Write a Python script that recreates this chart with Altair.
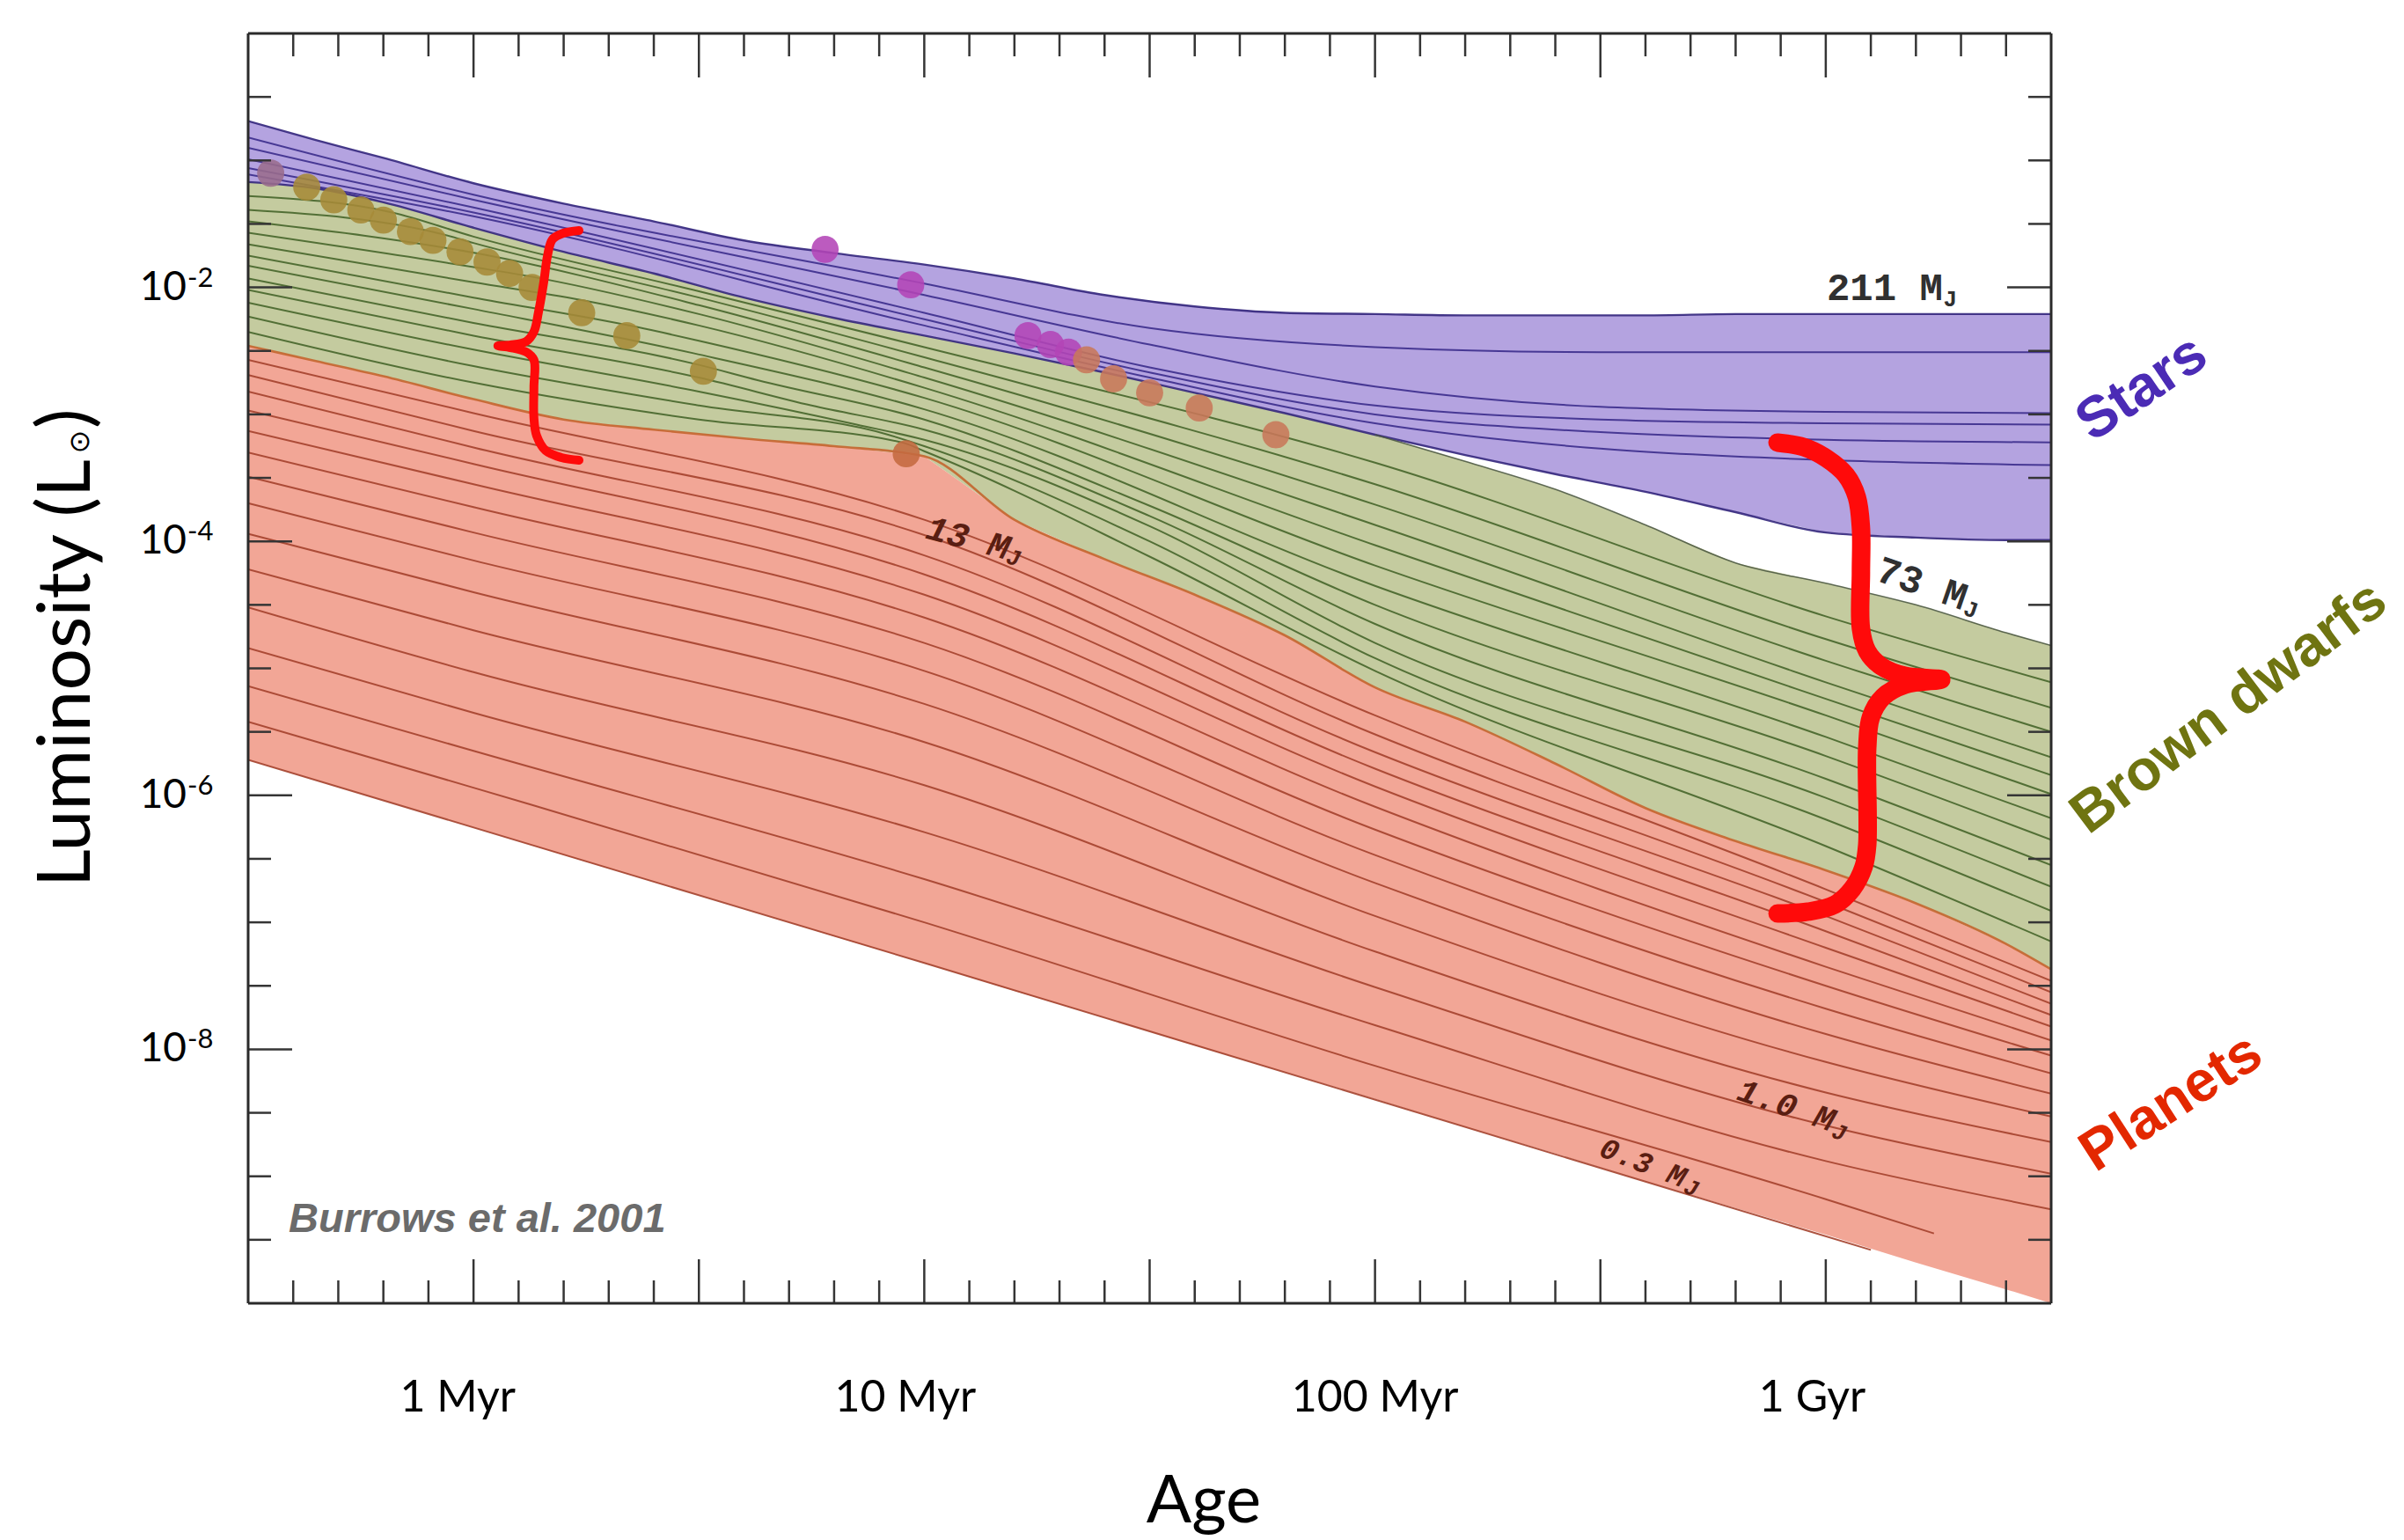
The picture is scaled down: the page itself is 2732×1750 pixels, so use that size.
import altair as alt
import pandas as pd

# ---------------- axis ranges: log10(age / yr) and log10(L / Lsun) ----------------
x_domain = [5.5, 9.5]
y_domain = [-10.0, 0.0]

# ---------------- region boundaries ----------------
grid_t = [5.5, 5.65, 5.8, 6.0, 6.2, 6.4, 6.6, 6.8, 7.0, 7.2, 7.4, 7.6, 7.8, 8.0,
          8.2, 8.4, 8.6, 8.8, 9.0, 9.2, 9.4, 9.5]
star_top = [-0.69, -0.84, -0.98, -1.18, -1.34, -1.48, -1.63, -1.73, -1.82, -1.93, -2.06,
            -2.15, -2.20, -2.21, -2.22, -2.22, -2.22, -2.21, -2.21, -2.21, -2.21, -2.21]
star_bottom = [-1.17, -1.22, -1.33, -1.53, -1.72, -1.89, -2.08, -2.24, -2.38, -2.52, -2.67,
               -2.83, -2.99, -3.16, -3.32, -3.47, -3.61, -3.77, -3.93, -3.97, -3.99, -3.99]
bd_top = [-1.17, -1.22, -1.33, -1.53, -1.72, -1.89, -2.08, -2.24, -2.38, -2.52, -2.67,
          -2.83, -2.99, -3.16, -3.37, -3.59, -3.87, -4.17, -4.33, -4.50, -4.72, -4.82]
mj13 = [-2.46, -2.58, -2.70, -2.88, -3.04, -3.12, -3.19, -3.25, -3.33, -3.83, -4.14,
        -4.42, -4.74, -5.15, -5.42, -5.75, -6.10, -6.36, -6.59, -6.85, -7.17, -7.37]
planet_bottom = [-5.72, -5.88, -6.04, -6.25, -6.47, -6.68, -6.89, -7.11, -7.32, -7.54, -7.75,
                 -7.97, -8.18, -8.39, -8.61, -8.82, -9.04, -9.25, -9.46, -9.68, -9.89, -10.0]

# ---------------- stellar tracks ----------------
star_t = [5.5, 6.0, 7.0, 7.5, 8.0, 8.5, 9.0, 9.5]
star_L = [
    [-0.82, -1.27, -1.97, -2.32, -2.47, -2.51, -2.51, -2.51],
    [-0.90, -1.31, -2.06, -2.45, -2.78, -2.94, -2.98, -2.99],
    [-0.99, -1.37, -2.20, -2.63, -2.93, -3.04, -3.07, -3.08],
    [-1.06, -1.41, -2.25, -2.67, -3.00, -3.14, -3.20, -3.22],
    [-1.11, -1.44, -2.30, -2.71, -3.07, -3.27, -3.36, -3.40],
]

# ---------------- brown dwarf tracks ----------------
bd_tracks_t = [
    [5.5, 5.82, 6.0, 6.5, 7.0, 8.0, 9.0, 9.5],
    [5.5, 5.93, 6.0, 6.5, 7.0, 8.0, 9.0, 9.5],
    [5.5, 6.02, 6.5, 7.0, 8.0, 9.0, 9.5],
    [5.5, 6.0, 6.12, 6.5, 7.0, 8.0, 9.0, 9.5],
    [5.5, 6.0, 6.24, 6.5, 7.0, 8.0, 9.0, 9.5],
    [5.5, 6.0, 6.36, 6.5, 7.0, 8.0, 9.0, 9.5],
    [5.5, 6.0, 6.49, 7.0, 8.0, 9.0, 9.5],
    [5.5, 6.0, 6.5, 6.63, 7.0, 7.5, 8.0, 9.0, 9.5],
    [5.5, 6.0, 6.5, 6.75, 7.0, 7.5, 8.0, 9.0, 9.5],
    [5.5, 6.0, 6.5, 6.85, 7.0, 7.5, 8.0, 9.0, 9.5],
    [5.5, 6.0, 6.5, 6.92, 7.0, 7.5, 8.0, 9.0, 9.5],
    [5.5, 6.0, 6.5, 6.95, 7.0, 7.5, 8.0, 9.0, 9.5],
]
bd_tracks_L = [
    [-1.28, -1.41, -1.60, -2.03, -2.47, -3.38, -4.59, -5.11],
    [-1.39, -1.58, -1.65, -2.08, -2.55, -3.55, -4.77, -5.31],
    [-1.48, -1.74, -2.14, -2.63, -3.71, -4.94, -5.50],
    [-1.57, -1.84, -1.91, -2.21, -2.71, -3.87, -5.11, -5.70],
    [-1.66, -1.96, -2.10, -2.30, -2.79, -4.03, -5.24, -5.84],
    [-1.75, -2.08, -2.31, -2.42, -2.87, -4.19, -5.37, -5.99],
    [-1.83, -2.17, -2.52, -2.96, -4.35, -5.54, -6.18],
    [-1.93, -2.28, -2.61, -2.73, -3.04, -3.72, -4.50, -5.69, -6.35],
    [-2.02, -2.38, -2.71, -2.93, -3.12, -3.80, -4.65, -5.87, -6.55],
    [-2.12, -2.49, -2.82, -3.08, -3.20, -3.88, -4.80, -6.02, -6.72],
    [-2.23, -2.62, -2.93, -3.16, -3.25, -4.00, -4.92, -6.19, -6.91],
    [-2.35, -2.75, -3.04, -3.22, -3.29, -4.12, -5.02, -6.40, -7.15],
]

# ---------------- planet tracks ----------------
planet_t = [5.5, 6.0, 7.0, 8.0, 9.0, 9.5]
planet_L = [
    [-2.57, -2.99, -3.83, -5.37, -6.74, -7.46],
    [-2.69, -3.13, -3.95, -5.52, -6.84, -7.55],
    [-2.82, -3.26, -4.11, -5.66, -6.95, -7.64],
    [-2.97, -3.39, -4.26, -5.79, -7.07, -7.73],
    [-3.13, -3.55, -4.42, -5.93, -7.20, -7.82],
    [-3.30, -3.73, -4.60, -6.09, -7.35, -7.93],
    [-3.49, -3.93, -4.80, -6.27, -7.50, -8.05],
    [-3.70, -4.15, -5.02, -6.47, -7.68, -8.19],
    [-3.94, -4.40, -5.28, -6.69, -7.88, -8.35],
    [-4.22, -4.70, -5.58, -6.95, -8.10, -8.53],
    [-4.52, -5.03, -5.92, -7.23, -8.34, -8.73],
    [-4.84, -5.35, -6.29, -7.51, -8.60, -8.98],
    [-5.14, -5.65, -6.66, -7.81, -8.88, -9.26],
]
planet_last_t = [5.5, 6.0, 7.0, 8.0, 9.0, 9.24]
planet_last_L = [-5.42, -5.94, -7.00, -8.13, -9.18, -9.45]
mj03_t = [5.5, 7.0, 9.1]
mj03_L = [-5.72, -7.32, -9.58]

# ---------------- observed objects ----------------
dot_t = [5.55, 5.63, 5.69, 5.75, 5.80, 5.86, 5.91, 5.97, 6.03, 6.08, 6.13, 6.24, 6.34, 6.51,
         6.96, 6.78, 6.97, 7.23, 7.28, 7.32, 7.36, 7.42, 7.50, 7.61, 7.78]
dot_L = [-1.10, -1.21, -1.31, -1.39, -1.47, -1.56, -1.63, -1.72, -1.80, -1.89, -2.00, -2.20,
         -2.38, -2.66, -3.31, -1.70, -1.98, -2.38, -2.45, -2.51, -2.57, -2.72, -2.83, -2.95, -3.16]
dot_kind = (["mix"] + ["brown"] * 13 + ["rust"] + ["magenta"] * 5 + ["salmon"] * 5)

# ---------------- red braces ----------------
brace_left_t = [6.234, 6.199, 6.175, 6.164, 6.156, 6.144, 6.134, 6.117, 6.082, 6.054,
                6.082, 6.117, 6.134, 6.134, 6.134, 6.140, 6.160, 6.195, 6.234]
brace_left_L = [-1.552, -1.573, -1.622, -1.753, -1.954, -2.197, -2.349, -2.426, -2.453, -2.460,
                -2.474, -2.509, -2.571, -2.786, -3.028, -3.167, -3.285, -3.340, -3.361]
brace_right_t = [8.893, 8.951, 9.002, 9.045, 9.069, 9.078, 9.078, 9.078, 9.092, 9.123, 9.176, 9.256,
                 9.176, 9.127, 9.100, 9.092, 9.092, 9.084, 9.059, 9.020, 8.961, 8.893]
brace_right_L = [-3.222, -3.257, -3.347, -3.479, -3.652, -3.895, -4.241, -4.685, -4.865, -4.983,
                 -5.059, -5.087, -5.128, -5.225, -5.385, -5.627, -6.390, -6.563, -6.736, -6.861,
                 -6.916, -6.930]

# ---------------- text annotations ----------------
region_text = ["Stars", "Brown dwarfs", "Planets"]
region_t = [9.701, 9.894, 9.766]
region_L = [-2.793, -5.308, -8.420]
region_angle = [326, 323, 327]
region_color = ["#4b2bb5", "#6f7411", "#e32800"]

mass_text = ["211 M", "73 M", "13 M", "1.0 M", "0.3 M"]
mass_t = [9.131, 9.213, 7.097, 8.912, 8.594]
mass_L = [-2.010, -4.338, -3.978, -8.448, -8.898]
mass_angle = [0, 19, 15, 19, 21]
mass_size = [44, 44, 40, 38, 34]
mass_italic = [False, False, True, True, True]
mass_color = ["#303030", "#303030", "#5a1e12", "#5a1e12", "#5a1e12"]
sub_t = [9.276, 9.322, 7.198, 9.030, 8.702]
sub_L = [-2.093, -4.539, -4.130, -8.656, -9.092]

xlabel_text = ["1 Myr", "10 Myr", "100 Myr", "1 Gyr"]
xlabel_t = [5.965, 6.958, 8.0, 8.97]
ylabel_base = ["10", "10", "10", "10"]
ylabel_exp = ["-2", "-4", "-6", "-8"]
ylabel_L = [-2.0, -4.0, -6.0, -8.0]

x_major = [6.0, 6.5, 7.0, 7.5, 8.0, 8.5, 9.0]
x_minor = [5.6, 5.7, 5.8, 5.9, 6.1, 6.2, 6.3, 6.4, 6.6, 6.7, 6.8, 6.9, 7.1, 7.2, 7.3, 7.4,
           7.6, 7.7, 7.8, 7.9, 8.1, 8.2, 8.3, 8.4, 8.6, 8.7, 8.8, 8.9, 9.1, 9.2, 9.3, 9.4]
y_major = [-2.0, -4.0, -6.0, -8.0]
y_minor = [-0.5, -1.0, -1.5, -2.5, -3.0, -3.5, -4.5, -5.0, -5.5, -6.5, -7.0, -7.5,
           -8.5, -9.0, -9.5]

# ================= build tables =================
W, H = 2049, 1443
xs = alt.Scale(domain=x_domain, nice=False, zero=False)
ys = alt.Scale(domain=y_domain, nice=False, zero=False)
X = alt.X("t:Q", scale=xs, axis=None)
Y = alt.Y("L:Q", scale=ys, axis=None)

area_df = pd.DataFrame({"t": grid_t, "star_top": star_top, "star_bottom": star_bottom,
                        "bd_top": bd_top, "mj13": mj13, "planet_bottom": planet_bottom})

kind_color = {"star": "#3b2c8c", "star_edge": "#33267c", "bd": "#46652a", "bd_edge": "#4e5a42",
              "planet": "#a4412c", "mj13": "#c4652e"}
kind_width = {"star": 2.0, "star_edge": 2.4, "bd": 2.0, "bd_edge": 1.6, "planet": 2.0,
              "mj13": 2.6}

rows = []


def add(name, kind, ts, Ls):
    for i, (t, L) in enumerate(zip(ts, Ls)):
        rows.append({"track": name, "col": kind_color[kind], "w": kind_width[kind],
                     "t": t, "L": L, "seq": i})


for i, Ls in enumerate(star_L):
    add(f"s{i}", "star", star_t, Ls)
for i, (ts, Ls) in enumerate(zip(bd_tracks_t, bd_tracks_L)):
    add(f"b{i}", "bd", ts, Ls)
for i, Ls in enumerate(planet_L):
    add(f"p{i}", "planet", planet_t, Ls)
add("p_last", "planet", planet_last_t, planet_last_L)
add("p03", "planet", mj03_t, mj03_L)
add("e211", "star_edge", grid_t, star_top)
add("e_sb", "star_edge", grid_t, star_bottom)
add("e73", "bd_edge", grid_t[13:], bd_top[13:])
add("e13", "mj13", grid_t, mj13)
track_df = pd.DataFrame(rows)

dot_color = {"mix": "#9a6c8c", "brown": "#a68a38", "rust": "#c46a40", "magenta": "#b344b6",
             "salmon": "#c8775a"}
dot_df = pd.DataFrame({"t": dot_t, "L": dot_L, "col": [dot_color[k] for k in dot_kind]})

brace_rows = []
for i, (t, L) in enumerate(zip(brace_left_t, brace_left_L)):
    brace_rows.append({"brace": "left", "t": t, "L": L, "seq": i, "w": 10})
for i, (t, L) in enumerate(zip(brace_right_t, brace_right_L)):
    brace_rows.append({"brace": "right", "t": t, "L": L, "seq": i, "w": 21})
brace_df = pd.DataFrame(brace_rows)

region_df = pd.DataFrame({"text": region_text, "t": region_t, "L": region_L,
                          "angle": region_angle, "col": region_color})
mass_df = pd.DataFrame({"text": mass_text, "t": mass_t, "L": mass_L, "angle": mass_angle,
                        "fs": mass_size, "italic": mass_italic, "col": mass_color})
sub_df = pd.DataFrame({"text": ["J"] * len(sub_t), "t": sub_t, "L": sub_L,
                       "angle": mass_angle, "fs": [26] * len(sub_t), "italic": mass_italic,
                       "col": mass_color})

xlab_df = pd.DataFrame({"text": xlabel_text, "t": xlabel_t})
ylab_df = pd.DataFrame({"base": ylabel_base, "exp": ylabel_exp, "L": ylabel_L})
xmaj_df = pd.DataFrame({"t": x_major})
xmin_df = pd.DataFrame({"t": x_minor})
ymaj_df = pd.DataFrame({"L": y_major})
ymin_df = pd.DataFrame({"L": y_minor})
frame_df = pd.DataFrame({"t": [5.5, 5.5, 5.5, 9.5], "t2": [9.5, 9.5, 5.5, 9.5],
                         "L": [0.0, -10.0, -10.0, -10.0], "L2": [0.0, -10.0, 0.0, 0.0]})

# ================= layers =================
area_star = alt.Chart(area_df).mark_area(color="#b4a3e0", clip=True).encode(
    x=X, y=alt.Y("star_top:Q", scale=ys, axis=None), y2=alt.Y2("star_bottom:Q"))
area_bd = alt.Chart(area_df).mark_area(color="#c4cb9f", clip=True).encode(
    x=X, y=alt.Y("bd_top:Q", scale=ys, axis=None), y2=alt.Y2("mj13:Q"))
area_pl = alt.Chart(area_df).mark_area(color="#f2a696", clip=True).encode(
    x=X, y=alt.Y("mj13:Q", scale=ys, axis=None), y2=alt.Y2("planet_bottom:Q"))

tracks = alt.Chart(track_df).mark_line(clip=True, interpolate="monotone", opacity=0.9).encode(
    x=X, y=Y, detail="track:N", order="seq:Q",
    color=alt.Color("col:N", scale=None),
    strokeWidth=alt.StrokeWidth("w:Q", scale=None))

dots = alt.Chart(dot_df).mark_circle(size=950, opacity=0.88).encode(
    x=X, y=Y, color=alt.Color("col:N", scale=None))

braces = alt.Chart(brace_df).mark_line(color="#ff0a0a", strokeCap="round", strokeJoin="round",
                                       interpolate="catmull-rom").encode(
    x=X, y=Y, detail="brace:N", order="seq:Q",
    strokeWidth=alt.StrokeWidth("w:Q", scale=None))

region_txt = alt.Chart(region_df).mark_text(font="Liberation Sans", fontWeight="bold",
                                            fontSize=65, align="center", baseline="middle").encode(
    x=X, y=Y, text="text:N", angle=alt.Angle("angle:Q", scale=None),
    color=alt.Color("col:N", scale=None))


def mass_layer(df, italic):
    return alt.Chart(df).transform_filter(
        alt.datum.italic == italic
    ).mark_text(font="Liberation Mono", fontWeight="bold",
                fontStyle="italic" if italic else "normal",
                align="center", baseline="middle").encode(
        x=X, y=Y, text="text:N", angle=alt.Angle("angle:Q", scale=None),
        size=alt.Size("fs:Q", scale=None),
        color=alt.Color("col:N", scale=None))


mass_up = mass_layer(mass_df, False)
mass_it = mass_layer(mass_df, True)
sub_up = mass_layer(sub_df, False)
sub_it = mass_layer(sub_df, True)

burrows = alt.Chart(pd.DataFrame({"text": ["Burrows et al. 2001"], "t": [5.59], "L": [-9.342]})).mark_text(
    font="Liberation Sans", fontWeight="bold", fontStyle="italic", fontSize=47,
    color="#6b6b6b", align="left", baseline="middle").encode(x=X, y=Y, text="text:N")

xlab = alt.Chart(xlab_df).mark_text(font="Lato", fontSize=50, color="#000000",
                                    align="center", baseline="middle").encode(
    x=X, y=alt.value(1551), text="text:N")
ylab_base = alt.Chart(ylab_df).mark_text(font="Lato", fontSize=46, color="#000000",
                                         align="right", baseline="middle").encode(
    x=alt.value(-70), y=Y, text="base:N")
ylab_exp = alt.Chart(ylab_df).mark_text(font="Lato", fontSize=31, color="#000000",
                                        align="left", baseline="middle", dy=-10).encode(
    x=alt.value(-69), y=Y, text="exp:N")

# y-axis title: "Luminosity (L" + small sun symbol + ")", rotated; anchored at the top end
title_y1 = alt.Chart(pd.DataFrame({"text": ["Luminosity (L"]})).mark_text(
    font="Lato", fontSize=84, color="#000000", angle=270, align="right",
    baseline="alphabetic").encode(x=alt.value(-180), y=alt.value(484), text="text:N")
title_y2 = alt.Chart(pd.DataFrame({"text": ["\u2299"]})).mark_text(
    font="DejaVu Sans", fontSize=32, color="#000000", angle=270, align="center",
    baseline="middle").encode(x=alt.value(-191), y=alt.value(464), text="text:N")
title_y3 = alt.Chart(pd.DataFrame({"text": [")"]})).mark_text(
    font="Lato", fontSize=84, color="#000000", angle=270, align="left",
    baseline="alphabetic").encode(x=alt.value(-180), y=alt.value(449), text="text:N")
title_x = alt.Chart(pd.DataFrame({"text": ["Age"]})).mark_text(
    font="Lato", fontSize=76, color="#000000", align="center", baseline="middle").encode(
    x=alt.value(1086), y=alt.value(1669), text="text:N")

tick_color = "#353535"
tick_kw = dict(color=tick_color, strokeWidth=2.5)
ticks = [
    alt.Chart(xmaj_df).mark_rule(**tick_kw).encode(x=X, y=alt.value(H), y2=alt.value(H - 50)),
    alt.Chart(xmin_df).mark_rule(**tick_kw).encode(x=X, y=alt.value(H), y2=alt.value(H - 26)),
    alt.Chart(xmaj_df).mark_rule(**tick_kw).encode(x=X, y=alt.value(0), y2=alt.value(50)),
    alt.Chart(xmin_df).mark_rule(**tick_kw).encode(x=X, y=alt.value(0), y2=alt.value(26)),
    alt.Chart(ymaj_df).mark_rule(**tick_kw).encode(y=Y, x=alt.value(0), x2=alt.value(50)),
    alt.Chart(ymin_df).mark_rule(**tick_kw).encode(y=Y, x=alt.value(0), x2=alt.value(26)),
    alt.Chart(ymaj_df).mark_rule(**tick_kw).encode(y=Y, x=alt.value(W), x2=alt.value(W - 50)),
    alt.Chart(ymin_df).mark_rule(**tick_kw).encode(y=Y, x=alt.value(W), x2=alt.value(W - 26)),
]
frame = alt.Chart(frame_df).mark_rule(color="#2a2a2a", strokeWidth=3).encode(
    x=X, x2="t2:Q", y=Y, y2="L2:Q")

chart = alt.layer(
    area_star, area_bd, area_pl, tracks, dots, braces,
    mass_up, mass_it, sub_up, sub_it, region_txt, burrows, xlab, ylab_base, ylab_exp,
    title_y1, title_y2, title_y3, title_x, *ticks, frame
).properties(
    width=W, height=H,
    autosize=alt.AutoSizeParams(type="none"),
    padding={"left": 282, "top": 38, "right": 401, "bottom": 269},
    background="#ffffff",
).configure_view(stroke=None)

chart.save("out.html", embed_options={"renderer": "svg", "actions": False})
